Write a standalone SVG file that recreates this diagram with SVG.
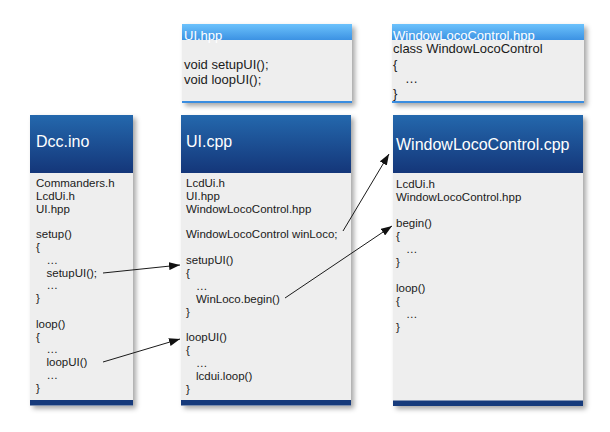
<svg xmlns="http://www.w3.org/2000/svg" width="610" height="432" viewBox="0 0 610 432">
<defs>
<linearGradient id="dark" x1="0" y1="0" x2="0" y2="1">
<stop offset="0" stop-color="#2468ad"/>
<stop offset="1" stop-color="#143679"/>
</linearGradient>
<linearGradient id="light" x1="0" y1="0" x2="0" y2="1">
<stop offset="0" stop-color="#6cc2fc"/>
<stop offset="1" stop-color="#3c92e3"/>
</linearGradient>
<filter id="sh" x="-10%" y="-10%" width="130%" height="130%">
<feDropShadow dx="3" dy="3" stdDeviation="2.5" flood-color="#000" flood-opacity="0.35"/>
</filter>
<marker id="ah" markerUnits="userSpaceOnUse" markerWidth="11" markerHeight="8" refX="11" refY="4" orient="auto">
<path d="M0,0 L11,4 L0,8 z" fill="#111"/>
</marker>
</defs>
<style>
.body{fill:#eeeeee}
.bar{fill:#163a7b}
.lbar{fill:#3a8de0}
.t{font-family:"Liberation Sans",Arial,sans-serif;font-size:11.5px;fill:#1a1a1a}
.th{font-family:"Liberation Sans",Arial,sans-serif;font-size:13px;fill:#1a1a1a}
.title{font-family:"Liberation Sans",Arial,sans-serif;font-size:16px;fill:#ffffff}
.ltitle{font-family:"Liberation Sans",Arial,sans-serif;font-size:13px;fill:#ffffff}
.conn{stroke:#1a1a1a;stroke-width:1;fill:none;marker-end:url(#ah)}
</style>

<g id="ui-hpp">
<rect x="182" y="24" width="170" height="79" class="body" filter="url(#sh)"/>
<rect x="182" y="24" width="170" height="16" fill="url(#light)"/>
<rect x="182" y="101" width="170" height="2" class="lbar"/>
<text x="184" y="39.5" class="ltitle">UI.hpp</text>
<text x="184" y="69" class="th">void setupUI();</text>
<text x="184" y="84" class="th">void loopUI();</text>
</g>

<g id="wlc-hpp">
<rect x="392" y="24" width="192" height="79" class="body" filter="url(#sh)"/>
<rect x="392" y="24" width="192" height="16" fill="url(#light)"/>
<rect x="392" y="101" width="192" height="2" class="lbar"/>
<text x="393" y="39.5" class="ltitle">WindowLocoControl.hpp</text>
<text x="393" y="53" class="th">class WindowLocoControl</text>
<text x="393" y="68.5" class="th">{</text>
<text x="405" y="83" class="th">…</text>
<text x="393" y="98" class="th">}</text>
</g>

<g id="dcc-ino">
<rect x="30" y="115" width="103" height="290.5" class="body" filter="url(#sh)"/>
<rect x="30" y="115" width="103" height="58" fill="url(#dark)"/>
<rect x="30" y="400" width="103" height="5.5" class="bar"/>
<text x="36" y="147" class="title">Dcc.ino</text>
<text x="36" y="187" class="t">Commanders.h</text>
<text x="36" y="199.8" class="t">LcdUi.h</text>
<text x="36" y="212.6" class="t">UI.hpp</text>
<text x="36" y="238.2" class="t">setup()</text>
<text x="36" y="251" class="t">{</text>
<text x="46.5" y="263.8" class="t">…</text>
<text x="46.5" y="276.6" class="t">setupUI();</text>
<text x="46.5" y="289.4" class="t">…</text>
<text x="36" y="302.2" class="t">}</text>
<text x="36" y="327.8" class="t">loop()</text>
<text x="36" y="340.6" class="t">{</text>
<text x="46.5" y="353.4" class="t">…</text>
<text x="46.5" y="366.2" class="t">loopUI()</text>
<text x="46.5" y="379" class="t">…</text>
<text x="36" y="391.8" class="t">}</text>
</g>

<g id="ui-cpp">
<rect x="181" y="115" width="170" height="290.5" class="body" filter="url(#sh)"/>
<rect x="181" y="115" width="170" height="58" fill="url(#dark)"/>
<rect x="181" y="400" width="170" height="5.5" class="bar"/>
<text x="186" y="147" class="title">UI.cpp</text>
<text x="186" y="187" class="t">LcdUi.h</text>
<text x="186" y="199.85" class="t">UI.hpp</text>
<text x="186" y="212.7" class="t">WindowLocoControl.hpp</text>
<text x="186" y="238.4" class="t">WindowLocoControl winLoco;</text>
<text x="186" y="264.1" class="t">setupUI()</text>
<text x="186" y="277" class="t">{</text>
<text x="196" y="289.8" class="t">…</text>
<text x="196" y="302.6" class="t">WinLoco.begin()</text>
<text x="186" y="315.5" class="t">}</text>
<text x="186" y="341.2" class="t">loopUI()</text>
<text x="186" y="354" class="t">{</text>
<text x="196" y="366.9" class="t">…</text>
<text x="196" y="379.8" class="t">lcdui.loop()</text>
<text x="186" y="392.6" class="t">}</text>
</g>

<g id="wlc-cpp">
<rect x="393" y="115" width="190" height="291" class="body" filter="url(#sh)"/>
<rect x="393" y="115" width="190" height="58" fill="url(#dark)"/>
<rect x="393" y="400.5" width="190" height="5.5" class="bar"/>
<text x="396" y="149.5" class="title">WindowLocoControl.cpp</text>
<text x="396" y="188" class="t">LcdUi.h</text>
<text x="396" y="201" class="t">WindowLocoControl.hpp</text>
<text x="396" y="227" class="t">begin()</text>
<text x="396" y="240" class="t">{</text>
<text x="406" y="253" class="t">…</text>
<text x="396" y="266" class="t">}</text>
<text x="396" y="292" class="t">loop()</text>
<text x="396" y="305" class="t">{</text>
<text x="406" y="318" class="t">…</text>
<text x="396" y="331" class="t">}</text>
</g>

<g id="connectors">
<line x1="103" y1="273" x2="180" y2="265" class="conn"/>
<line x1="103" y1="362" x2="180" y2="339" class="conn"/>
<line x1="343" y1="231" x2="389" y2="154" class="conn"/>
<line x1="285" y1="298" x2="392" y2="226" class="conn"/>
</g>
</svg>
